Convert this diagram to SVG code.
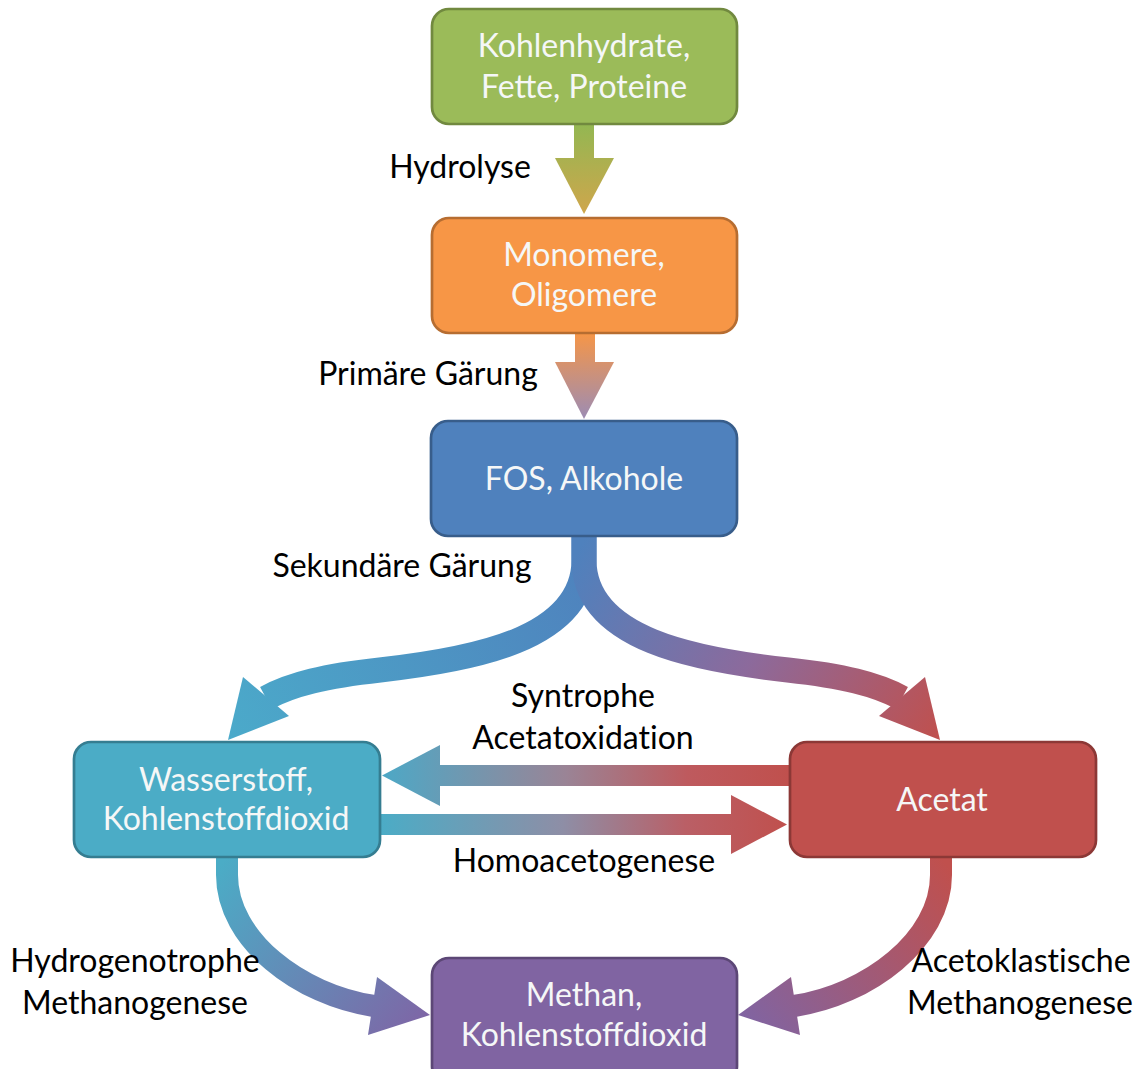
<svg xmlns="http://www.w3.org/2000/svg" width="1140" height="1069" viewBox="0 0 1140 1069">
<style>
.box{stroke-width:2.7}
.bt{font-family:Lato,"Liberation Sans",sans-serif;font-size:32px;fill:#F5F7F7;text-anchor:middle}
.lb{font-family:Lato,"Liberation Sans",sans-serif;font-size:32px;fill:#000;text-anchor:middle;font-variant-ligatures:none}
.shaft{fill:none;stroke-linecap:butt}
</style>
<defs>
<linearGradient id="g1" gradientUnits="userSpaceOnUse" x1="0" y1="124" x2="0" y2="214"><stop offset="0" stop-color="#93B752"/><stop offset="1" stop-color="#CFA64C"/></linearGradient>
<linearGradient id="g2" gradientUnits="userSpaceOnUse" x1="0" y1="332" x2="0" y2="419"><stop offset="0" stop-color="#F79646"/><stop offset="1" stop-color="#9C8CB4"/></linearGradient>
<linearGradient id="gL" gradientUnits="userSpaceOnUse" x1="584" y1="540" x2="228" y2="740"><stop offset="0" stop-color="#4F81BD"/><stop offset="1" stop-color="#4BAACA"/></linearGradient>
<linearGradient id="gR" gradientUnits="userSpaceOnUse" x1="584" y1="540" x2="228" y2="740"><stop offset="0" stop-color="#4F81BD"/><stop offset="0.5" stop-color="#8C6A9C"/><stop offset="1" stop-color="#C0504D"/></linearGradient>
<linearGradient id="gTop" gradientUnits="userSpaceOnUse" x1="789" y1="0" x2="382" y2="0"><stop offset="0" stop-color="#C0504D"/><stop offset="0.25" stop-color="#BE5A5E"/><stop offset="0.55" stop-color="#9A8496"/><stop offset="1" stop-color="#4DA8C6"/></linearGradient>
<linearGradient id="gBot" gradientUnits="userSpaceOnUse" x1="380" y1="0" x2="787" y2="0"><stop offset="0" stop-color="#4BACC6"/><stop offset="0.45" stop-color="#8E8EA6"/><stop offset="0.75" stop-color="#BA5F66"/><stop offset="1" stop-color="#C0504D"/></linearGradient>
<linearGradient id="gBL" gradientUnits="userSpaceOnUse" x1="227" y1="857" x2="430" y2="1015"><stop offset="0" stop-color="#4BACC6"/><stop offset="1" stop-color="#7E66A6"/></linearGradient>
<linearGradient id="gBR" gradientUnits="userSpaceOnUse" x1="227" y1="857" x2="430" y2="1015"><stop offset="0" stop-color="#C0504D"/><stop offset="1" stop-color="#8064A2"/></linearGradient>
</defs>
<g id="connectors">
  <g id="hydrolyse-arrow">
    <rect x="574" y="124" width="20" height="35" fill="url(#g1)"/>
    <polygon points="555,158 614,158 584,214" fill="url(#g1)"/>
  </g>
  <g id="primaer-arrow">
    <rect x="575" y="332" width="20" height="31" fill="url(#g2)"/>
    <polygon points="555,362 614,362 584,419" fill="url(#g2)"/>
  </g>
  <g id="sek-left">
    <path class="shaft" d="M584,536 L584,560 C584,640 470,660 380,670 C325,676 292,684 266,698" stroke="url(#gL)" stroke-width="25"/>
    <polygon points="243,677 289,716 228,740" fill="url(#gL)"/>
  </g>
  <g id="sek-right" transform="translate(1168,0) scale(-1,1)">
    <path class="shaft" d="M584,536 L584,560 C584,640 470,660 380,670 C325,676 292,684 266,698" stroke="url(#gR)" stroke-width="25"/>
    <polygon points="243,677 289,716 228,740" fill="url(#gR)"/>
  </g>
  <g id="syntroph-arrow">
    <rect x="439" y="765" width="351" height="21" fill="url(#gTop)"/>
    <polygon points="440,745 440,806 382,775.5" fill="url(#gTop)"/>
  </g>
  <g id="homoacet-arrow">
    <rect x="379" y="814" width="353" height="21" fill="url(#gBot)"/>
    <polygon points="731,795 731,854 787,824.5" fill="url(#gBot)"/>
  </g>
  <g id="hydrogenotroph-arrow">
    <path class="shaft" d="M227,856 L227,875 C227,940 300,995 374,1006" stroke="url(#gBL)" stroke-width="22"/>
    <polygon points="377,977 368,1035 430,1015" fill="url(#gBL)"/>
  </g>
  <g id="acetoklast-arrow" transform="translate(1168,0) scale(-1,1)">
    <path class="shaft" d="M227,856 L227,875 C227,940 300,995 374,1006" stroke="url(#gBR)" stroke-width="22"/>
    <polygon points="377,977 368,1035 430,1015" fill="url(#gBR)"/>
  </g>
</g>
<g id="node-substrate">
  <rect class="box" x="432" y="9" width="305" height="115" rx="17" fill="#9BBB59" stroke="#71893F"/>
  <text class="bt" x="584" y="57">Kohlenhydrate,</text>
  <text class="bt" x="584" y="98">Fette, Proteine</text>
</g>
<g id="node-monomere">
  <rect class="box" x="432" y="218" width="305" height="115" rx="17" fill="#F79646" stroke="#B66D31"/>
  <text class="bt" x="584" y="266">Monomere,</text>
  <text class="bt" x="584" y="306">Oligomere</text>
</g>
<g id="node-fos">
  <rect class="box" x="431" y="421" width="306" height="115" rx="17" fill="#4F81BD" stroke="#385D8A"/>
  <text class="bt" x="584" y="490">FOS, Alkohole</text>
</g>
<g id="node-wasserstoff">
  <rect class="box" x="74" y="742" width="306" height="115" rx="17" fill="#4BACC6" stroke="#357D91"/>
  <text class="bt" x="226" y="791">Wasserstoff,</text>
  <text class="bt" x="226" y="830">Kohlenstoffdioxid</text>
</g>
<g id="node-acetat">
  <rect class="box" x="790" y="742" width="306" height="115" rx="17" fill="#C0504D" stroke="#8C3836"/>
  <text class="bt" x="942" y="811">Acetat</text>
</g>
<g id="node-methan">
  <rect class="box" x="432" y="958" width="305" height="125" rx="17" fill="#8064A2" stroke="#5C4776"/>
  <text class="bt" x="584" y="1006">Methan,</text>
  <text class="bt" x="584" y="1046">Kohlenstoffdioxid</text>
</g>
<g id="labels">
  <text class="lb" x="460" y="178">Hydrolyse</text>
  <text class="lb" x="428" y="385">Primäre Gärung</text>
  <text class="lb" x="402" y="577">Sekundäre Gärung</text>
  <text class="lb" x="583" y="707">Syntrophe</text>
  <text class="lb" x="583" y="749">Acetatoxidation</text>
  <text class="lb" x="584" y="872">Homoacetogenese</text>
  <text class="lb" x="135" y="972">Hydrogenotrophe</text>
  <text class="lb" x="135" y="1014">Methanogenese</text>
  <text class="lb" x="1021" y="972">Acetoklastische</text>
  <text class="lb" x="1020" y="1014">Methanogenese</text>
</g>
</svg>
